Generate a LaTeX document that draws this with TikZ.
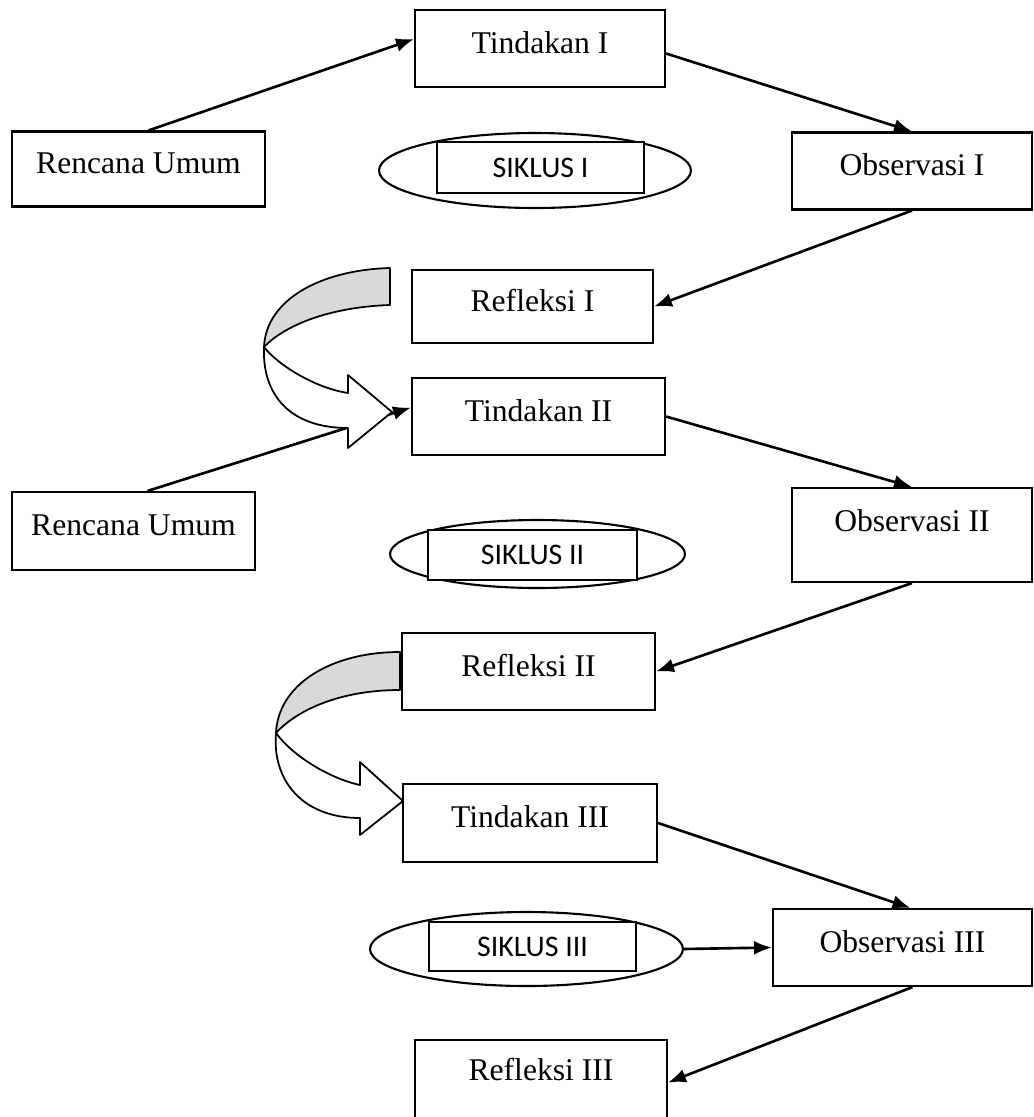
\documentclass[tikz,border=0pt]{standalone}
\usepackage{fontspec}
\setmainfont{Liberation Serif}
\newfontfamily\siklusfont{Carlito}
\usetikzlibrary{shapes.geometric,arrows.meta}

\tikzset{
  kotak/.style={draw, rectangle, line width=1.2pt, minimum width=#1, minimum height=1.54cm,
    text depth=7pt, font=\fontsize{18}{21}\selectfont},
  kotak/.default=5cm,
  elips/.style={draw, ellipse, line width=1.2pt, inner sep=0pt},
  siklus/.style={draw, rectangle, fill=white, line width=1.2pt, minimum height=1cm,
    font=\siklusfont\fontsize{17}{19}\selectfont},
  panah/.style={-{Latex[length=3.6mm,width=2.8mm]}, line width=1.5pt},
  lengkung/.style={line width=1pt, line join=round}
}

\begin{document}
\begin{tikzpicture}[x=0.02cm,y=-0.02cm]
    \useasboundingbox (0,0) rectangle (1034,1117);
    % siklus I
    \node[kotak] (tind1) at (540,48.5) {Tindakan I};
    \node[kotak=5.06cm, minimum height=1.5cm] (renc1) at (138.5,169) {Rencana Umum};
    \node[kotak=4.8cm] (obs1) at (912,171) {Observasi I};
    \node[elips, minimum width=6.24cm, minimum height=1.5cm] (sik1) at (535,170.5) {};
    \node[siklus, minimum width=4.14cm, minimum height=1.02cm] (lab1) at (540.5,167.5) {SIKLUS I};
    \node[kotak=4.82cm, minimum height=1.46cm] (ref1) at (532.5,306.5) {Refleksi I};
    % siklus II
    \node[kotak=5.06cm] (tind2) at (538.5,416.5) {Tindakan II};
    \node[kotak=4.86cm, minimum height=1.56cm] (renc2) at (133.5,531) {Rencana Umum};
    \node[kotak=4.8cm, minimum height=1.88cm, text depth=17pt] (obs2) at (912,535) {Observasi II};
    \node[elips, minimum width=5.9cm, minimum height=1.36cm] (sik2) at (537.5,554) {};
    \node[siklus, minimum width=4.18cm] (lab2) at (532.5,555) {SIKLUS II};
    \node[kotak=5.06cm] (ref2) at (528.5,671.5) {Refleksi II};
    % siklus III
    \node[kotak=5.08cm, minimum height=1.56cm] (tind3) at (530,823) {Tindakan III};
    \node[kotak=5.18cm] (obs3) at (902.5,947.5) {Observasi III};
    \node[elips, minimum width=6.26cm, minimum height=1.48cm] (sik3) at (526.5,949) {};
    \node[siklus, minimum width=4.14cm, minimum height=0.98cm] (lab3) at (532.5,946.5) {SIKLUS III};
    \node[kotak=5.04cm, minimum height=1.7cm, text depth=15pt] (ref3) at (541,1082.5) {Refleksi III};

    % panah lurus
    \draw[panah] ([xshift=0.2cm]renc1.north) -- ([yshift=0.19cm]tind1.west);
    \draw[panah] ([yshift=-0.1cm]tind1.east) -- (obs1.north);
    \draw[panah] (obs1.south) -- (ref1.east);
    \draw[panah] ([xshift=0.28cm]renc2.north) -- ([yshift=0.18cm]tind2.west);
    \draw[panah] (tind2.east) -- (obs2.north);
    \draw[panah] (obs2.south) -- (ref2.east);
    \draw[panah] (tind3.east) -- ([xshift=0.16cm]obs3.north);
    \draw[panah] (sik3.east) -- (obs3.west);
    \draw[panah] ([xshift=0.2cm]obs3.south) -- (ref3.east);

    % panah lengkung I -> II
    \filldraw[lengkung, fill=gray!30] (390,268) .. controls (320,270) and (266,300) .. (264,347)
        .. controls (285,325) and (330,307) .. (390,305) -- cycle;
    \filldraw[lengkung, fill=white] (264,347) .. controls (278,365) and (315,388) .. (348,393)
        -- (348,375) -- (392,412) -- (348,448) -- (348,428)
        .. controls (290,428) and (262,395) .. (264,347) -- cycle;
    % panah lengkung II -> III
    \filldraw[lengkung, fill=gray!30] (400,652) .. controls (330,652) and (278,685) .. (276,733)
        .. controls (297,710) and (340,690) .. (400,690) -- cycle;
    \filldraw[lengkung, fill=white] (276,733) .. controls (292,755) and (328,778) .. (360,785)
        -- (360,762) -- (403,801) -- (360,835) -- (360,818)
        .. controls (302,818) and (272,780) .. (276,733) -- cycle;
    \end{tikzpicture}
\end{document}
